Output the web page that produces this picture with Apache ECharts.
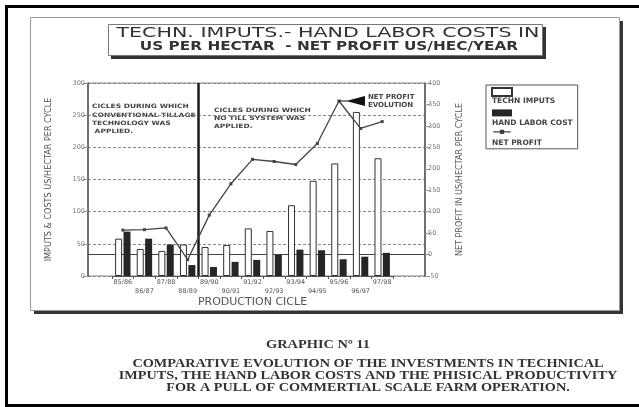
<!DOCTYPE html>
<html>
<head>
<meta charset="utf-8">
<script src="https://cdn.jsdelivr.net/npm/echarts@6/dist/echarts.min.js"></script>
<style>
html,body{margin:0;padding:0;background:#fff;}
#main{width:639px;height:407px;}
</style>
</head>
<body>
<div id="main"></div>
<script>
//production cicles
var cicles = ['85/86','86/87','87/88','88/89','89/90','90/91','91/92','92/93','93/94','94/95','95/96','96/97','97/98'];
//US$ per hectar per cycle (left axis)
var technImputs = [58, 42, 39, 49, 45, 48, 74, 70, 110, 148, 175, 255, 183];
var handLabor = [69, 58, 49, 17, 14, 22, 25, 33, 41, 40, 26, 30, 36];
//net profit US$/hec/year (right axis)
var netProfit = [57, 58, 62, -12, 92, 165, 222, 217, 210, 259, 358, 294, 310];
//first cicle with no till system
var noTillStart = '89/90';
var leftScale = [0, 300, 50];
var rightScale = [-50, 400, 50];

var sans = '"DejaVu Sans"';
var narrow = '"DejaVu Sans Condensed", "DejaVu Sans"';
var serif = '"Liberation Serif"';

var myChart = echarts.init(document.getElementById('main'));
var changeIdx = cicles.indexOf(noTillStart);

//=================================================================================
myChart.setOption({
	animation : false,
	backgroundColor : '#fff',
	grid : [
		{left : 88, right : 214, top : 83, bottom : 131, show : true, borderColor : '#888', borderWidth : 1, backgroundColor : 'transparent'},
		{left : 112, right : 246, top : 83, bottom : 131}
	],
	legend : {
		orient : 'vertical',
		left : 486,
		top : 85,
		padding : [2, 5, -8, 5],
		itemGap : -6.6,
		itemWidth : 20,
		itemHeight : 27,
		borderColor : '#555',
		borderWidth : 1,
		selectedMode : false,
		textStyle : {fontSize : 7.5, fontWeight : 'bold', color : '#444', fontFamily : sans, padding : [0, 0, 0, -25]},
		data : [
			{name : 'TECHN IMPUTS', icon : 'path://M0,0H20V8H0Z M0,27L0,27'},
			{name : 'HAND LABOR COST', icon : 'path://M0,0H20V7H0Z M0,27L0,27'},
			{name : 'NET PROFIT', icon : 'path://M0,3.4H16V4.6H0Z M6,2H10V6H6Z M0,27L0,27'}
		]
	},
	xAxis : [
		{
			gridIndex : 0, type : 'value', min : 0, max : 1,
			axisLabel : {show : false}, axisTick : {show : false}, splitLine : {show : false},
			axisLine : {show : true, onZero : true, onZeroAxisIndex : 1, lineStyle : {color : '#444', width : 1}}
		},
		{
			gridIndex : 1, type : 'category', data : cicles,
			axisLine : {show : true, onZero : false, lineStyle : {color : '#555'}},
			axisTick : {show : true, length : 3, interval : 0, lineStyle : {color : '#555'}},
			axisLabel : {
				interval : 0, margin : 2, fontSize : 6.5, lineHeight : 9, color : '#555', fontFamily : sans,
				formatter : function(v, i){
					return i % 2 ? '\n' + v : v;
				}
			},
			//only the boundary before the first no till cicle is drawn
			splitLine : {
				show : true,
				interval : function(i){ return i === changeIdx - 1 || i === changeIdx; },
				lineStyle : {color : ['rgba(0,0,0,0)', '#1a1a1a'], width : 2.5}
			},
			name : 'PRODUCTION CICLE', nameLocation : 'middle', nameGap : 20,
			nameTextStyle : {fontSize : 11, color : '#555', fontFamily : sans}
		}
	],
	yAxis : [
		{
			gridIndex : 0, type : 'value', position : 'left',
			min : leftScale[0], max : leftScale[1], interval : leftScale[2],
			name : 'IMPUTS & COSTS US/HECTAR PER CYCLE', nameLocation : 'middle', nameGap : 35, nameRotate : 90,
			nameTextStyle : {fontSize : 9, color : '#555', fontFamily : narrow},
			axisLine : {show : true, onZero : false, lineStyle : {color : '#555', width : 1.5}},
			axisTick : {show : true, length : 5, lineStyle : {color : '#999'}},
			axisLabel : {fontSize : 6.5, color : '#777', margin : 3, fontFamily : sans},
			splitLine : {show : true, lineStyle : {color : '#888', type : [3, 2], width : 1}}
		},
		{
			gridIndex : 0, type : 'value', position : 'right',
			min : rightScale[0], max : rightScale[1], interval : rightScale[2],
			name : 'NET PROFIT IN US/HECTAR PER CYCLE', nameLocation : 'middle', nameGap : 30, nameRotate : 90,
			nameTextStyle : {fontSize : 9, color : '#555', fontFamily : narrow},
			axisLine : {show : true, onZero : false, lineStyle : {color : '#555', width : 1.5}},
			axisTick : {show : true, length : 5, lineStyle : {color : '#999'}},
			axisLabel : {fontSize : 6.5, color : '#777', margin : 3, fontFamily : sans},
			splitLine : {show : false}
		},
		{gridIndex : 1, type : 'value', show : false, min : leftScale[0], max : leftScale[1]},
		{gridIndex : 1, type : 'value', show : false, min : rightScale[0], max : rightScale[1]}
	],
	series : [
		{
			name : 'TECHN IMPUTS', type : 'bar', xAxisIndex : 1, yAxisIndex : 2,
			data : technImputs, barWidth : 7, barGap : '20%',
			itemStyle : {color : '#fff', borderColor : '#333', borderWidth : 1}
		},
		{
			name : 'HAND LABOR COST', type : 'bar', xAxisIndex : 1, yAxisIndex : 2,
			data : handLabor, barWidth : 7,
			itemStyle : {color : '#262626'}
		},
		{
			name : 'NET PROFIT', type : 'line', xAxisIndex : 1, yAxisIndex : 3,
			data : netProfit, symbol : 'rect', symbolSize : 3,
			lineStyle : {color : '#444', width : 1.3},
			itemStyle : {color : '#444'},
			markPoint : {
				symbol : 'path://M0,4.4L9,4.4L26,0L26,10L9,5.6L0,5.6Z',
				symbolSize : [26, 10],
				symbolOffset : [13, 0],
				itemStyle : {color : '#111'},
				label : {
					show : true, position : 'right', distance : 3,
					formatter : 'NET PROFIT\nEVOLUTION',
					fontSize : 7, fontWeight : 'bold', lineHeight : 8, color : '#444', fontFamily : sans
				},
				data : [{type : 'max'}]
			}
		}
	],
	graphic : [
		//page frames
		{type : 'rect', z : -10, shape : {x : 6.5, y : 6.5, width : 700, height : 399}, style : {fill : 'none', stroke : '#000', lineWidth : 3}},
		{type : 'rect', z : -10, shape : {x : 34, y : 21, width : 589, height : 293}, style : {fill : '#333'}},
		{type : 'rect', z : -9, shape : {x : 30.5, y : 17.5, width : 589, height : 293}, style : {fill : '#fff', stroke : '#999', lineWidth : 1}},
		//title box
		{type : 'rect', z : -8, shape : {x : 111, y : 27, width : 435, height : 32}, style : {fill : '#333'}},
		{type : 'rect', z : -7, shape : {x : 108.5, y : 24.5, width : 434, height : 31}, style : {fill : '#fff', stroke : '#777', lineWidth : 1}},
		{type : 'text', x : 328, y : 33, scaleX : 1.42, style : {text : 'TECHN. IMPUTS.- HAND LABOR COSTS IN', font : '14.5px ' + sans, fill : '#333', align : 'center', verticalAlign : 'middle'}},
		{type : 'text', x : 329, y : 47, scaleX : 1.33, style : {text : 'US PER HECTAR  - NET PROFIT US/HEC/YEAR', font : 'bold 11.5px ' + sans, fill : '#333', align : 'center', verticalAlign : 'middle'}},
		//cicle notes
		{type : 'text', x : 92, y : 102.5, scaleX : 1.25, style : {text : 'CICLES DURING WHICH\nCONVENTIONAL TILLAGE\nTECHNOLOGY WAS\n APPLIED.', font : 'bold 6px ' + sans, lineHeight : 8.3, fill : '#444', align : 'left', verticalAlign : 'top'}},
		{type : 'text', x : 214, y : 106, scaleX : 1.25, style : {text : 'CICLES DURING WHICH\nNO TILL SYSTEM WAS\nAPPLIED.', font : 'bold 6px ' + sans, lineHeight : 8, fill : '#444', align : 'left', verticalAlign : 'top'}},
		//captions
		{type : 'text', x : 318, y : 344.5, scaleX : 1.2, style : {text : 'GRAPHIC N\u00ba 11', font : 'bold 12px ' + serif, fill : '#333', align : 'center', verticalAlign : 'middle'}},
		{type : 'text', x : 368, y : 357.2, scaleX : 1.14, style : {text : 'COMPARATIVE EVOLUTION OF THE INVESTMENTS IN TECHNICAL\nIMPUTS, THE HAND LABOR COSTS AND THE PHISICAL PRODUCTIVITY\nFOR A PULL OF COMMERTIAL SCALE FARM OPERATION.', font : 'bold 12.5px ' + serif, lineHeight : 12.2, fill : '#333', align : 'center', verticalAlign : 'top'}}
	]
});
</script>
</body>
</html>
